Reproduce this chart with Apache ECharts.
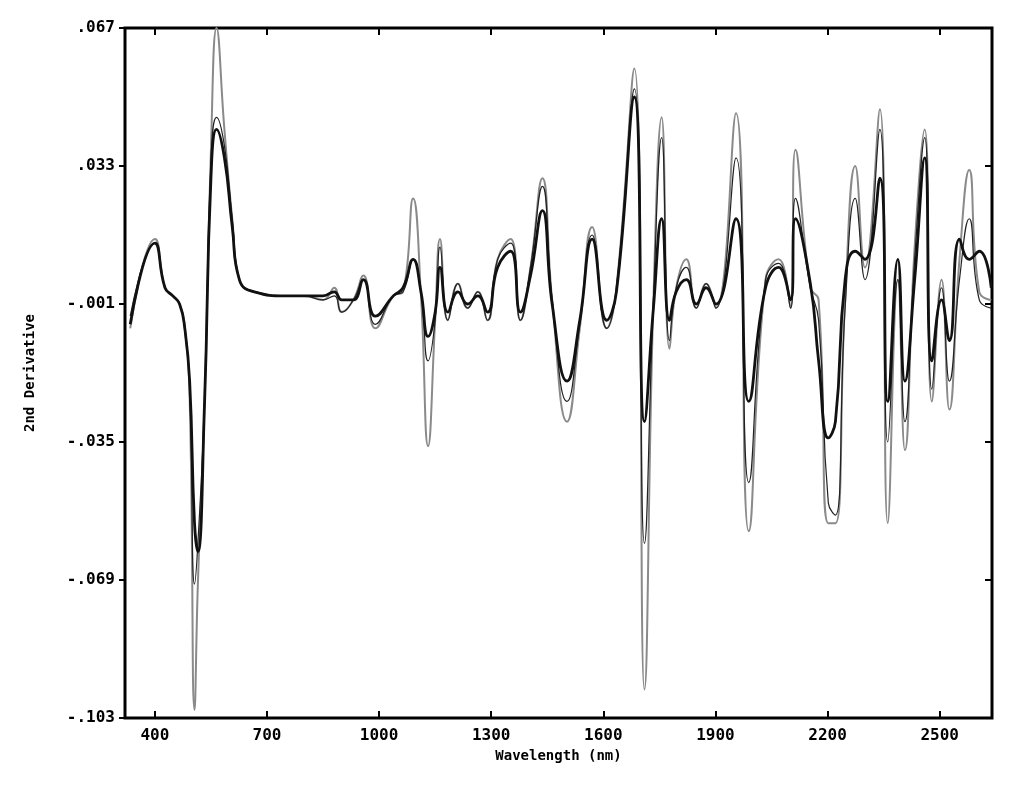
<!DOCTYPE html>
<html><head><meta charset="utf-8">
<script src="https://cdn.jsdelivr.net/npm/echarts@6/dist/echarts.min.js"></script>
<style>html,body{margin:0;padding:0;background:#fff}#c{width:1024px;height:789px}</style>
</head><body><div id="c"></div>
<script>
const wavelength=[334,400,427,448,466,480,493,506,515,533,550,565,586,607,626,666,750,800,850,880,900,931,958,990,1038,1064,1091,1112,1131,1150,1163,1184,1211,1237,1264,1290,1317,1352,1378,1405,1437,1463,1503,1537,1570,1609,1635,1683,1710,1734,1756,1777,1795,1822,1849,1875,1901,1955,1989,2034,2069,2101,2114,2154,2176,2202,2221,2247,2274,2300,2340,2361,2388,2407,2433,2460,2479,2505,2526,2553,2579,2606,2638];
const grayS=[-7,15,3,1,-1,-7,-24,-101,-70,-25,37,67,42,20,5,2,1,1,0,3,-3,0,6,-7,1,2,25,1,-36,-5,15,-5,4,-2,2,-5,10,15,-5,8,30,0,-30,-7,18,-7,3,57,-96,0,45,-12,3,10,-2,4,-2,46,-57,5,10,-2,37,3,0,-55,-55,0,33,8,47,-55,5,-37,13,42,-25,5,-27,10,32,2,0];
const blackS=[-6,14,3,1,-1,-7,-20,-55,-62,-25,30,42,35,18,5,2,1,1,1,2,0,0,5,-4,1,3,10,2,-9,-3,8,-3,2,-1,1,-3,8,12,-3,6,22,-1,-20,-5,15,-5,2,50,-30,-2,20,-5,2,5,-1,3,-1,20,-25,3,8,0,20,4,-15,-34,-30,5,12,10,30,-25,10,-20,5,35,-15,0,-10,15,10,12,3];
const thinS=[-4,14,3,1,-1,-7,-22,-70,-60,-25,34,45,38,20,5,2,1,1,0,1,-3,0,5,-6,1,2,10,2,-15,-5,13,-5,4,-2,2,-5,10,14,-5,8,28,0,-25,-6,16,-7,3,52,-60,0,40,-10,3,8,-2,4,-2,35,-45,5,9,-2,25,3,-5,-50,-53,-2,25,5,42,-35,5,-30,10,40,-22,3,-20,5,20,0,-2];
const xTicks=[400,700,1000,1300,1600,1900,2200,2500];
const yTicks=[-0.103,-0.069,-0.035,-0.001,0.033,0.067];
const mk=a=>a.map((v,i)=>[wavelength[i],v/1000]);
const font='DejaVu Sans Mono';
const fmtY=v=>{let s=Math.abs(v).toFixed(3).replace(/^0/,'');return (v<0?'-':'')+s;};
const tick={inside:true,length:7,lineStyle:{color:'#000',width:2}};
const chart=echarts.init(document.getElementById('c'));
chart.setOption({
 animation:false,
 grid:{left:125,right:32,top:28,bottom:71,show:true,borderColor:'#000',borderWidth:3},
 xAxis:[{type:'value',position:'bottom',min:320,max:2640,name:'Wavelength (nm)',nameLocation:'middle',nameGap:30,
  nameTextStyle:{fontFamily:font,fontWeight:'bold',fontSize:14,color:'#000'},
  axisLine:{show:false,onZero:false},splitLine:{show:false},
  axisTick:Object.assign({customValues:xTicks},tick),
  axisLabel:{customValues:xTicks,formatter:v=>String(v),fontFamily:font,fontWeight:'bold',fontSize:16,color:'#000',margin:10}},
 {type:'value',position:'top',min:320,max:2640,axisLine:{show:false,onZero:false},splitLine:{show:false},
  axisTick:Object.assign({customValues:xTicks},tick),axisLabel:{show:false}}],
 yAxis:[{type:'value',position:'left',min:-0.103,max:0.067,name:'2nd Derivative',nameLocation:'middle',nameGap:88,
  nameTextStyle:{fontFamily:font,fontWeight:'bold',fontSize:14,color:'#000'},
  axisLine:{show:false,onZero:false},splitLine:{show:false},
  axisTick:{customValues:yTicks,length:6,lineStyle:{color:'#000',width:2}},
  axisLabel:{customValues:yTicks,formatter:fmtY,fontFamily:font,fontWeight:'bold',fontSize:16,color:'#000',margin:10}},
 {type:'value',position:'right',min:-0.103,max:0.067,axisLine:{show:false,onZero:false},splitLine:{show:false},
  axisTick:Object.assign({customValues:yTicks},tick),axisLabel:{show:false}}],
 series:[
  {type:'line',data:mk(grayS),smooth:0.5,symbol:'none',lineStyle:{color:'#8a8a8a',width:2}},
  {type:'line',data:mk(thinS),smooth:0.5,symbol:'none',lineStyle:{color:'#222',width:1.2}},
  {type:'line',data:mk(blackS),smooth:0.5,symbol:'none',lineStyle:{color:'#111',width:2.8}}
 ]
});
</script></body></html>
